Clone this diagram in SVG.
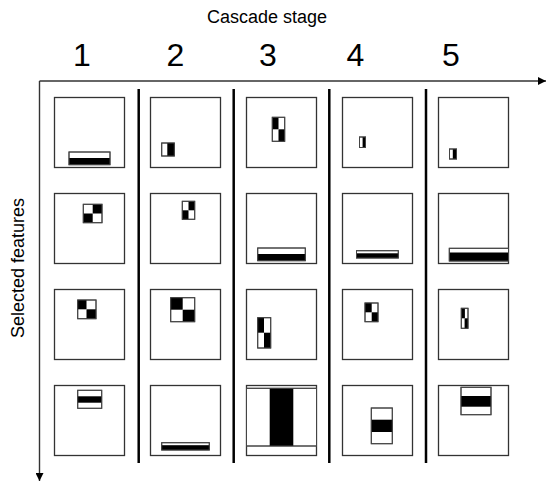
<svg xmlns="http://www.w3.org/2000/svg" width="547" height="483" viewBox="0 0 547 483">
<defs>
<marker id="ah" viewBox="0 0 10 10" refX="10" refY="5" markerWidth="8" markerHeight="8" markerUnits="userSpaceOnUse" orient="auto">
<path d="M0,0 L10,5 L0,10 z" fill="#000"/>
</marker>
<style>
.t{font-family:"Liberation Sans",Arial,sans-serif;fill:#000}
.box{fill:#fff;stroke:#333;stroke-width:1.3}
.f{fill:#fff;stroke:#444;stroke-width:1}
.k{fill:#000}
.o{fill:none;stroke:#444;stroke-width:1}
.sep{stroke:#000;stroke-width:2.5}
.ax{stroke:#333;stroke-width:1.4;fill:none}
</style>
</defs>
<rect width="547" height="483" fill="#fff"/>
<text class="t" x="267" y="22.5" font-size="18" text-anchor="middle">Cascade stage</text>
<g class="t" font-size="32" text-anchor="middle">
<text x="82" y="66">1</text>
<text x="175.5" y="66">2</text>
<text x="268" y="66">3</text>
<text x="355.5" y="66">4</text>
<text x="451" y="66">5</text>
</g>
<text class="t" font-size="18" text-anchor="middle" transform="translate(24,268) rotate(-90)">Selected features</text>
<g id="connectors">
<path class="ax" d="M39.5,81 H546" marker-end="url(#ah)"/>
<path class="ax" d="M39.5,81 V481" marker-end="url(#ah)"/>
<line class="sep" x1="138.7" y1="89" x2="138.7" y2="463"/>
<line class="sep" x1="233.7" y1="89" x2="233.7" y2="463"/>
<line class="sep" x1="329.3" y1="89" x2="329.3" y2="463"/>
<line class="sep" x1="426" y1="89" x2="426" y2="463"/>
</g>
<!-- Row 1 -->
<g id="r1c1"><rect class="box" x="54.5" y="97.5" width="70" height="70"/>
<rect class="f" x="69" y="152" width="41" height="12.7"/><rect class="k" x="69" y="158" width="41" height="6.7"/><rect class="o" x="69" y="152" width="41" height="12.7"/></g>
<g id="r1c2"><rect class="box" x="150.5" y="97.5" width="70" height="70"/>
<rect class="f" x="161.7" y="143" width="12.6" height="13"/><rect class="k" x="167.3" y="143" width="7" height="13"/><rect class="o" x="161.7" y="143" width="12.6" height="13"/></g>
<g id="r1c3"><rect class="box" x="246.5" y="97.5" width="70" height="70"/>
<rect class="f" x="272.3" y="117.3" width="12.4" height="24"/><rect class="k" x="272.3" y="117.3" width="6.2" height="12"/><rect class="k" x="278.5" y="129.3" width="6.2" height="12"/><rect class="o" x="272.3" y="117.3" width="12.4" height="24"/></g>
<g id="r1c4"><rect class="box" x="342.5" y="97.5" width="70" height="70"/>
<rect class="f" x="359.5" y="137" width="6" height="10.5"/><rect class="k" x="362.6" y="137" width="2.9" height="10.5"/><rect class="o" x="359.5" y="137" width="6" height="10.5" stroke="#111" stroke-width="1.4"/></g>
<g id="r1c5"><rect class="box" x="438.5" y="97.5" width="70" height="70"/>
<rect class="f" x="449.5" y="149" width="7" height="10"/><rect class="k" x="452.8" y="149" width="3.7" height="10"/><rect class="o" x="449.5" y="149" width="7" height="10" stroke="#111" stroke-width="1.4"/></g>
<!-- Row 2 -->
<g id="r2c1"><rect class="box" x="54.5" y="193.5" width="70" height="70"/>
<rect class="f" x="83.3" y="204.3" width="18.7" height="18.4"/><rect class="k" x="92.7" y="204.3" width="9.3" height="9.2"/><rect class="k" x="83.3" y="213.5" width="9.4" height="9.2"/><rect class="o" x="83.3" y="204.3" width="18.7" height="18.4"/></g>
<g id="r2c2"><rect class="box" x="150.5" y="193.5" width="70" height="70"/>
<rect class="f" x="182.3" y="201.3" width="12.4" height="18"/><rect class="k" x="188.5" y="201.3" width="6.2" height="9"/><rect class="k" x="182.3" y="210.3" width="6.2" height="9"/><rect class="o" x="182.3" y="201.3" width="12.4" height="18"/></g>
<g id="r2c3"><rect class="box" x="246.5" y="193.5" width="70" height="70"/>
<rect class="f" x="257.7" y="248" width="47.6" height="12.7"/><rect class="k" x="257.7" y="254" width="47.6" height="6.7"/><rect class="o" x="257.7" y="248" width="47.6" height="12.7"/></g>
<g id="r2c4"><rect class="box" x="342.5" y="193.5" width="70" height="70"/>
<rect class="f" x="356.5" y="250.7" width="41.8" height="7.3" fill="#eee"/><rect class="k" x="356.5" y="253.3" width="41.8" height="4.7"/><rect class="o" x="356.5" y="250.7" width="41.8" height="7.3"/></g>
<g id="r2c5"><rect class="box" x="438.5" y="193.5" width="70" height="70"/>
<rect class="f" x="449.3" y="248.3" width="59.2" height="12.7"/><rect class="k" x="449.3" y="252.5" width="59.2" height="8.5"/><rect class="o" x="449.3" y="248.3" width="59.2" height="12.7"/></g>
<!-- Row 3 -->
<g id="r3c1"><rect class="box" x="54.5" y="289.5" width="70" height="70"/>
<rect class="f" x="77.7" y="300" width="18.3" height="18.7"/><rect class="k" x="77.7" y="300" width="8.8" height="9.3"/><rect class="k" x="86.5" y="309.3" width="9.5" height="9.4"/><rect class="o" x="77.7" y="300" width="18.3" height="18.7"/></g>
<g id="r3c2"><rect class="box" x="150.5" y="289.5" width="70" height="70"/>
<rect class="f" x="170.7" y="297.7" width="24" height="24"/><rect class="k" x="170.7" y="297.7" width="12" height="12"/><rect class="k" x="182.7" y="309.7" width="12" height="12"/><rect class="o" x="170.7" y="297.7" width="24" height="24"/></g>
<g id="r3c3"><rect class="box" x="246.5" y="289.5" width="70" height="70"/>
<rect class="f" x="257.7" y="317.7" width="13" height="30.3"/><rect class="k" x="257.7" y="317.7" width="6.3" height="15"/><rect class="k" x="264" y="332.7" width="6.7" height="15.3"/><rect class="o" x="257.7" y="317.7" width="13" height="30.3"/></g>
<g id="r3c4"><rect class="box" x="342.5" y="289.5" width="70" height="70"/>
<rect class="f" x="365" y="303" width="13" height="18.7"/><rect class="k" x="365" y="303" width="6.7" height="9.3"/><rect class="k" x="371.7" y="312.3" width="6.3" height="9.4"/><rect class="o" x="365" y="303" width="13" height="18.7"/></g>
<g id="r3c5"><rect class="box" x="438.5" y="289.5" width="70" height="70"/>
<rect class="f" x="461.3" y="308.3" width="6.7" height="20"/><rect class="k" x="461.3" y="308.3" width="3.6" height="10"/><rect class="k" x="464.6" y="318.3" width="3.4" height="10"/><rect class="o" x="461.3" y="308.3" width="6.7" height="20" stroke="#111" stroke-width="1.3"/></g>
<!-- Row 4 -->
<g id="r4c1"><rect class="box" x="54.5" y="385.5" width="70" height="70"/>
<rect class="f" x="77.7" y="390.3" width="24" height="18"/><rect class="k" x="77.7" y="396.3" width="24" height="6.4"/><rect class="o" x="77.7" y="390.3" width="24" height="18"/></g>
<g id="r4c2"><rect class="box" x="150.5" y="385.5" width="70" height="70"/>
<rect class="f" x="161.7" y="442.7" width="47.6" height="7.3" fill="#ddd"/><rect class="k" x="161.7" y="445.2" width="47.6" height="4.8"/><rect class="o" x="161.7" y="442.7" width="47.6" height="7.3"/></g>
<g id="r4c3"><rect class="box" x="246.5" y="385.5" width="70" height="70"/>
<rect class="f" x="246.5" y="388.3" width="70" height="57.7"/><rect class="k" x="269.7" y="388.3" width="23.6" height="57.7"/><rect class="o" x="246.5" y="388.3" width="70" height="57.7"/></g>
<g id="r4c4"><rect class="box" x="342.5" y="385.5" width="70" height="70"/>
<rect class="f" x="371.3" y="408" width="21" height="35.7"/><rect class="k" x="371.3" y="419.7" width="21" height="12.3"/><rect class="o" x="371.3" y="408" width="21" height="35.7"/></g>
<g id="r4c5"><rect class="box" x="438.5" y="385.5" width="70" height="70"/>
<rect class="f" x="461" y="387.3" width="30" height="27.4"/><rect class="k" x="461" y="396" width="30" height="10.7"/><rect class="o" x="461" y="387.3" width="30" height="27.4"/></g>
</svg>
